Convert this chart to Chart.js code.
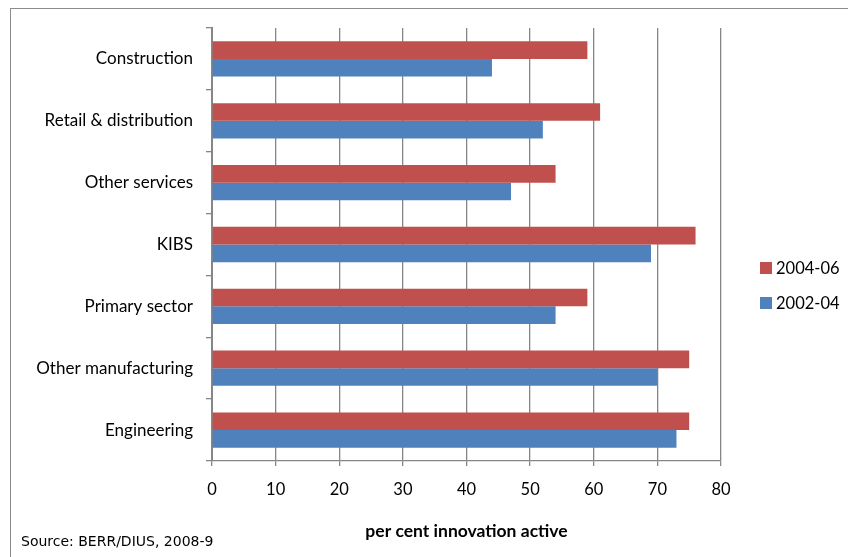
<!DOCTYPE html>
<html>
<head>
<meta charset="utf-8">
<script src="https://cdn.jsdelivr.net/npm/chart.js@4"></script>
<style>
  body { margin: 0; width: 848px; height: 557px; overflow: hidden; background: #fff; font-family: Lato, sans-serif; }
  #moldura { position: absolute; left: 10px; top: 8px; width: 900px; height: 600px; border: 1px solid #8c8c8c; }
  #wrap { position: absolute; left: 0; top: 0; width: 848px; height: 557px; }
  #legenda { position: absolute; left: 760px; top: 256px; font-size: 16.5px; color: #000; }
  #legenda div { display: flex; align-items: center; height: 24px; margin-bottom: 11px; }
  #legenda span.cor { display: inline-block; width: 12px; height: 12px; margin-right: 4px; }
  #fonte { position: absolute; left: 21px; top: 533px; font: 14px "DejaVu Sans", sans-serif; color: #000; }
</style>
</head>
<body>
<div id="moldura"></div>
<div id="wrap"><canvas id="grafico" width="848" height="557"></canvas></div>
<div id="legenda"></div>
<div id="fonte">Source: BERR/DIUS, 2008-9</div>
<script>
// Sectors, top to bottom
const setores = ['Construction', 'Retail & distribution', 'Other services', 'KIBS', 'Primary sector', 'Other manufacturing', 'Engineering'];

// Share of firms innovation active (%)
const valores0406 = [59, 61, 54, 76, 59, 75, 75];
const valores0204 = [44, 52, 47, 69, 54, 70, 73];

const rotulosSerie = ['2004-06', '2002-04'];
const coresSerie = ['#c0504d', '#4f81bd'];

const eixoMin = 0;
const eixoMax = 80;
const passo = 10;

const tituloEixo = 'per cent innovation active';

const cinza = '#868686';

const ctx = document.getElementById('grafico').getContext('2d');
const grafico = new Chart(ctx, {
  type: 'bar',
  data: {
    labels: setores,
    datasets: [
      { label: rotulosSerie[0], data: valores0406, backgroundColor: coresSerie[0] },
      { label: rotulosSerie[1], data: valores0204, backgroundColor: coresSerie[1] }
    ]
  },
  options: {
    indexAxis: 'y',
    responsive: false,
    animation: false,
    devicePixelRatio: 1,
    categoryPercentage: 0.57,
    barPercentage: 1,
    layout: { padding: { left: 0, right: 127, top: 28, bottom: 0 } },
    plugins: {
      legend: { display: false },
      tooltip: { enabled: false }
    },
    scales: {
      x: {
        min: eixoMin,
        max: eixoMax,
        ticks: {
          stepSize: passo,
          color: '#000',
          font: { family: 'Lato', size: 16.5 },
          padding: 14
        },
        grid: { color: cinza, lineWidth: 1.3, tickLength: 5, tickColor: cinza },
        border: { color: cinza, width: 1.3 },
        title: {
          display: true,
          text: tituloEixo,
          color: '#000',
          font: { family: 'Lato', size: 17.5, weight: 'bold' },
          padding: { top: 0, bottom: 15 }
        },
        afterFit(scale) { scale.height = 96; }
      },
      y: {
        ticks: {
          color: '#000',
          font: { family: 'Lato', size: 17 },
          padding: 13
        },
        grid: { drawOnChartArea: false, tickLength: 6, tickColor: cinza, lineWidth: 1.3 },
        border: { color: cinza, width: 2 },
        afterFit(scale) { scale.width = 212; }
      }
    }
  }
});

// Legenda lateral
const legendaDiv = document.getElementById('legenda');
legendaDiv.innerHTML = grafico.data.datasets.map(d => `
  <div><span class="cor" style="background:${d.backgroundColor};"></span>${d.label}</div>
`).join('');
</script>
</body>
</html>
